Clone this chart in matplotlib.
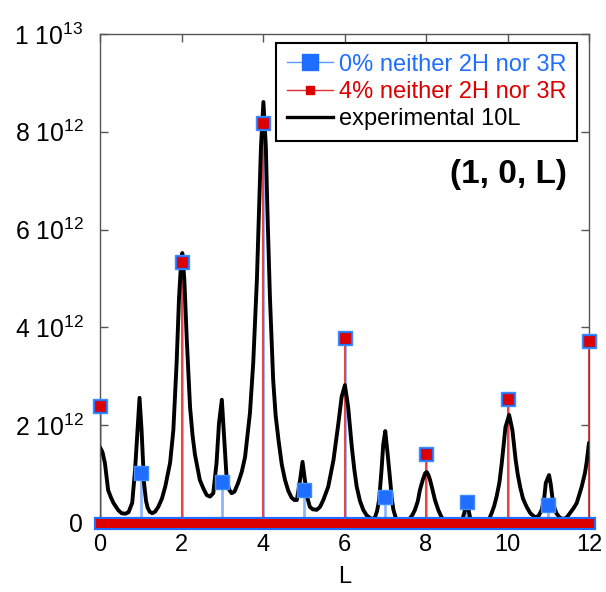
import matplotlib
matplotlib.use("Agg")
import matplotlib.pyplot as plt
from matplotlib.lines import Line2D

plt.rcParams['font.family'] = ['Liberation Sans', 'DejaVu Sans']
plt.rcParams['mathtext.fontset'] = 'custom'
plt.rcParams['mathtext.rm'] = 'Liberation Sans'
plt.rcParams['mathtext.it'] = 'Liberation Sans'

# ---- data (intensities in units of 1e12) ----
L_int = [0, 1, 2, 3, 4, 5, 6, 7, 8, 9, 10, 11, 12]
calc_0pct = [2.39, 1.02, 5.34, 0.84, 8.18, 0.67, 3.78, 0.53, 1.41, 0.43, 2.54, 0.37, 3.72]
calc_4pct = [2.39, 0.0, 5.34, 0.0, 8.18, 0.0, 3.78, 0.0, 1.41, 0.0, 2.54, 0.0, 3.72]

exp_L = [0.00, 0.06, 0.12, 0.20, 0.27, 0.33, 0.45, 0.53, 0.62, 0.70, 0.79, 0.86, 0.92, 0.97,
         1.02, 1.08, 1.13, 1.17, 1.22, 1.28, 1.35, 1.43, 1.52, 1.60, 1.72, 1.80, 1.88, 1.94,
         1.99, 2.02, 2.07, 2.13, 2.21, 2.27, 2.33, 2.45, 2.54, 2.62, 2.70, 2.78, 2.86, 2.92,
         2.99, 3.05, 3.11, 3.17, 3.23, 3.30, 3.39, 3.48, 3.56, 3.68, 3.76, 3.85, 3.90, 3.95,
         4.01, 4.07, 4.11, 4.17, 4.25, 4.31, 4.38, 4.46, 4.54, 4.62, 4.70, 4.77, 4.83, 4.91,
         4.97, 5.05, 5.10, 5.15, 5.22, 5.32, 5.40, 5.48, 5.60, 5.73, 5.85, 5.93, 6.01, 6.09,
         6.18, 6.24, 6.30, 6.38, 6.46, 6.54, 6.63, 6.70, 6.75, 6.80, 6.85, 6.91, 6.95, 7.00,
         7.06, 7.12, 7.16, 7.20, 7.26, 7.32, 7.40, 7.48, 7.55, 7.61, 7.67, 7.73, 7.80, 7.85,
         7.92, 7.98, 8.02, 8.06, 8.10, 8.16, 8.22, 8.30, 8.38, 8.50, 8.63, 8.75, 8.87, 8.92,
         8.96, 9.01, 9.05, 9.08, 9.14, 9.20, 9.30, 9.37, 9.48, 9.55, 9.61, 9.67, 9.73, 9.80,
         9.86, 9.95, 10.04, 10.12, 10.20, 10.25, 10.31, 10.38, 10.47, 10.56, 10.67, 10.76,
         10.84, 10.90, 10.94, 11.02, 11.06, 11.10, 11.15, 11.20, 11.28, 11.37, 11.45, 11.53,
         11.62, 11.70, 11.82, 11.90, 11.94, 12.00]
exp_I = [1.55, 1.45, 1.23, 0.67, 0.52, 0.41, 0.26, 0.20, 0.19, 0.22, 0.41, 1.08, 1.90, 2.56,
         1.90, 0.82, 0.45, 0.31, 0.23, 0.20, 0.23, 0.33, 0.50, 0.74, 1.23, 1.90, 3.27, 4.62,
         5.32, 5.52, 4.97, 3.74, 2.37, 1.80, 1.40, 0.88, 0.70, 0.57, 0.54, 0.61, 1.23, 2.04,
         2.52, 1.70, 0.88, 0.68, 0.61, 0.64, 0.82, 1.05, 1.35, 2.25, 3.27, 4.97, 6.34, 7.69,
         8.61, 7.69, 6.34, 4.62, 2.92, 2.20, 1.70, 1.20, 0.88, 0.66, 0.52, 0.47, 0.47, 0.88,
         1.25, 0.74, 0.48, 0.33, 0.28, 0.27, 0.33, 0.47, 0.74, 1.29, 2.04, 2.58, 2.82, 2.37,
         1.55, 1.10, 0.74, 0.45, 0.27, 0.16, 0.10, 0.08, 0.12, 0.25, 0.47, 1.10, 1.60, 1.88,
         1.40, 0.88, 0.50, 0.27, 0.10, 0.02, -0.03, -0.02, 0.02, 0.10, 0.17, 0.27, 0.45, 0.67,
         0.88, 1.02, 1.04, 0.98, 0.88, 0.68, 0.47, 0.27, 0.12, 0.02, -0.02, -0.03, 0.00, 0.15,
         0.27, 0.33, 0.25, 0.12, 0.03, 0.00, -0.02, -0.02, 0.00, 0.08, 0.20, 0.34, 0.53, 0.82,
         1.23, 1.96, 2.21, 1.90, 1.29, 1.00, 0.74, 0.50, 0.33, 0.20, 0.12, 0.14,
         0.27, 0.50, 0.82, 0.98, 0.80, 0.53, 0.32, 0.20, 0.11, 0.08, 0.11, 0.20,
         0.30, 0.41, 0.74, 1.02, 1.23, 1.64]

y_ticks = [0, 2, 4, 6, 8, 10]
y_tick_labels = ['0', r'$\mathregular{2\ 10^{12}}$', r'$\mathregular{4\ 10^{12}}$',
                 r'$\mathregular{6\ 10^{12}}$', r'$\mathregular{8\ 10^{12}}$',
                 r'$\mathregular{1\ 10^{13}}$']
x_ticks = [0, 2, 4, 6, 8, 10, 12]
labels = ['0% neither 2H nor 3R', '4% neither 2H nor 3R', 'experimental 10L']

SCALE = 1e12
BLUE = '#1f6eff'
RED = '#dc0000'
FS = 17

fig = plt.figure(figsize=(6.06, 5.92), dpi=100)
ax = fig.add_axes([100 / 606, 1 - 523 / 592, 489 / 606, 489 / 592])

c0 = [v * SCALE for v in calc_0pct]
c4 = [v * SCALE for v in calc_4pct]
ei = [v * SCALE for v in exp_I]

# sticks
ax.vlines(L_int, 0, c0, colors='#8db6ff', linewidth=2.0, zorder=1.5)
ax.vlines(L_int, 0, c4, colors='#e64646', linewidth=1.5, zorder=1.6)

# experimental curve
ax.plot(exp_L, ei, color='black', linewidth=2.8, zorder=2,
        solid_joinstyle='round', solid_capstyle='round')

# zero baseline of both calculated series (dense markers at zero)
ax.plot([L_int[0], L_int[-1]], [0, 0], color=BLUE, linewidth=9.5,
        solid_capstyle='projecting', zorder=3, clip_on=False)
ax.plot([L_int[0], L_int[-1]], [0, 0], color=RED, linewidth=6.5,
        solid_capstyle='projecting', zorder=3.1, clip_on=False)

# markers
ax.plot(L_int, c0, linestyle='none', marker='s', markersize=10.5,
        markerfacecolor=BLUE, markeredgecolor='#3d8bff', markeredgewidth=1.0,
        zorder=4, clip_on=False)
even_L = [l for l, v in zip(L_int, calc_4pct) if v > 0]
even_v = [v * SCALE for v in calc_4pct if v > 0]
ax.plot(even_L, even_v, linestyle='none', marker='s', markersize=6.5,
        markerfacecolor=RED, markeredgecolor=RED, markeredgewidth=0.5,
        zorder=5, clip_on=False)

ax.set_xlim(0, 12)
ax.set_ylim(0, 1e13)
ax.set_xticks(x_ticks)
ax.set_xticklabels([str(t) for t in x_ticks])
ax.set_yticks([t * SCALE for t in y_ticks])
ax.set_yticklabels(y_tick_labels)

for s in ax.spines.values():
    s.set_color('#555555')
    s.set_linewidth(1.0)

ax.tick_params(axis='both', direction='in', length=6, width=1, color='#555555',
               labelsize=FS, top=True, right=True)
ax.tick_params(axis='y', pad=12, labelsize=17.8)
ax.tick_params(axis='x', pad=8)
ax.set_xlabel('L', fontsize=FS, labelpad=7)

ax.text(0.955, 0.712, '(1, 0, L)', transform=ax.transAxes, ha='right', va='center',
        fontsize=24, fontweight='bold')

handles = [
    Line2D([], [], color='#5a9bff', linewidth=1.0, marker='s', markersize=11,
           markerfacecolor=BLUE, markeredgecolor=BLUE),
    Line2D([], [], color='#e03030', linewidth=1.0, marker='s', markersize=6,
           markerfacecolor=RED, markeredgecolor=RED),
    Line2D([], [], color='black', linewidth=2.4),
]
leg = ax.legend(handles, labels, loc='upper right', bbox_to_anchor=(0.9755, 0.9816),
                borderaxespad=0, fontsize=FS, frameon=True, fancybox=False,
                framealpha=1, edgecolor='black', handlelength=1.95, handletextpad=0.25,
                labelspacing=0.23, borderpad=0.45)
leg.get_frame().set_linewidth(1.5)
leg_texts = leg.get_texts()
leg_texts[0].set_color(BLUE)
leg_texts[1].set_color(RED)
leg_texts[2].set_color('black')
leg.set_zorder(10)

fig.savefig('out.png', dpi=100)
